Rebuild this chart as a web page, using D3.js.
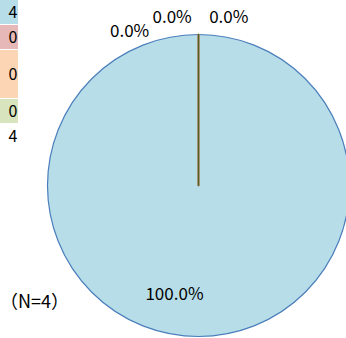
<!DOCTYPE html>
<html>
<head>
<meta charset="utf-8">
<script src="https://cdn.jsdelivr.net/npm/d3@7"></script>
<style>
  html, body { margin: 0; padding: 0; background: #fff; }
  svg { display: block; }
  text { font-family: "Noto Sans CJK JP", "Noto Sans", sans-serif; fill: #000; }
</style>
</head>
<body>
<svg id="chart" width="346" height="338"></svg>
<script>
// ---- data ----
const categories = ['A', 'B', 'C', 'D'];
const values     = [4, 0, 0, 0];
const total      = 4;
const fills      = ['#b7dde8', '#e6b9b8', '#fcd5b5', '#d7e4bd'];
const strokes    = ['#4a7ebb', '#be4b48', '#f79646', '#4f6228'];

const W = 346, H = 338;
const svg = d3.select('#chart');

// ---- clipped table on the left ----
const rowH = [24, 24, 48, 24];
const tbl = svg.append('g');
let y0 = 0;
categories.forEach((c, i) => {
  tbl.append('rect')
    .attr('x', 0).attr('y', y0)
    .attr('width', 18).attr('height', rowH[i])
    .attr('fill', fills[i]);
  tbl.append('text')
    .attr('x', 17.5).attr('y', y0 + rowH[i] / 2 + 6)
    .attr('text-anchor', 'end').attr('font-size', 16)
    .text(values[i]);
  y0 += rowH[i] + 1;
});
tbl.append('text')
  .attr('x', 17.5).attr('y', y0 + 18)
  .attr('text-anchor', 'end').attr('font-size', 16)
  .text(total);

// ---- pie ----
const cx = 198.5, cy = 185.5, R = 151;
const pie = d3.pie().sort(null).value(d => d);
const arcs = pie(values);
const arc = d3.arc().innerRadius(0).outerRadius(R);

const g = svg.append('g').attr('transform', `translate(${cx},${cy})`);
g.selectAll('path')
  .data(arcs)
  .join('path')
  .attr('d', arc)
  .attr('fill', (d, i) => fills[i])
  .attr('stroke', (d, i) => strokes[i])
  .attr('stroke-width', (d, i) => i === 0 ? 1.2 : 1.6)
  .attr('stroke-linejoin', 'round');

// ---- labels ----
const fmt = d => (d.value / total * 100).toFixed(1) + '%';
const labelArc = d3.arc().innerRadius(R * 0.72).outerRadius(R * 0.72);
const zeroSpread = [-0.42, -0.155, 0.178];   // Excel pushes the zero labels apart
let zi = 0;
arcs.forEach((d, i) => {
  let x, y;
  if (d.value > 0) {
    [x, y] = labelArc.centroid(d);
    x -= 24;   // Excel nudges the big label left
  } else {
    const a = d.startAngle + zeroSpread[zi];
    const dist = zi === 0 ? 169 : 171;
    x = Math.sin(a) * dist;
    y = -Math.cos(a) * dist;
    zi++;
  }
  g.append('text')
    .attr('x', x).attr('y', y + 6)
    .attr('text-anchor', 'middle')
    .attr('font-size', 17)
    .text(fmt(d));
});

// N note
svg.append('text')
  .attr('x', 0).attr('y', 308)
  .attr('font-size', 18)
  .text('（N=' + total + '）');
</script>
</body>
</html>
